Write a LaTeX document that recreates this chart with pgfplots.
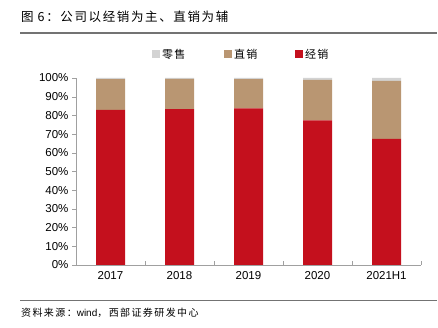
\documentclass[border=0pt]{standalone}
\usepackage{pgfplots}
\pgfplotsset{compat=1.18}
\usepackage{fontspec}
\setmainfont{Liberation Sans}
\newfontfamily\cjk{Noto Sans CJK SC}
\newfontfamily\cjkT[LetterSpace=13]{Noto Sans CJK SC}
\newfontfamily\cjkS[LetterSpace=14]{Noto Sans CJK SC}
\newfontfamily\cjkL[LetterSpace=10]{Noto Sans CJK SC}
\definecolor{cRed}{HTML}{C4101D}
\definecolor{cTan}{HTML}{B99672}
\definecolor{cGray}{HTML}{D3D3D3}
\definecolor{cAxis}{HTML}{A0A0A0}
\begin{document}
\begin{tikzpicture}[x=1pt,y=1pt]
\path[use as bounding box] (0,0) rectangle (438,328);
% title
\node[anchor=west,inner sep=0pt] at (21,311) {\fontsize{12.5}{14}\selectfont\cjkT 图\hspace{4pt}6：公司以经销为主、直销为辅};
\draw[gray!90!black,line width=1.2pt] (20,295) -- (437,295);
% source
\draw[gray!90!black,line width=1.0pt] (20,27) -- (437,27);
\node[anchor=west,inner sep=0pt] at (21,15) {\fontsize{10}{11}\selectfont\cjkS 资料来源：\fontspec{Liberation Sans}wind\cjkS，西部证券研发中心};
% legend
\fill[cGray] (152,270) rectangle (160,278);
\node[anchor=west,inner sep=0pt] at (162,274) {\fontsize{11}{13}\selectfont\cjkL 零售};
\fill[cTan] (224,270) rectangle (232,278);
\node[anchor=west,inner sep=0pt] at (234,274) {\fontsize{11}{13}\selectfont\cjkL 直销};
\fill[cRed] (295,270) rectangle (303,278);
\node[anchor=west,inner sep=0pt] at (305,274) {\fontsize{11}{13}\selectfont\cjkL 经销};
\begin{axis}[
  at={(76pt,63pt)}, anchor=south west,
  scale only axis, width=345pt, height=187pt,
  ybar stacked, bar width=29pt,
  xmin=-0.5, xmax=4.5, ymin=0, ymax=100,
  xtick={-0.5,0.5,1.5,2.5,3.5,4.5},
  xticklabels={},
  extra x ticks={0,1,2,3,4},
  extra x tick labels={2017,2018,2019,2020,2021H1},
  extra x tick style={major tick length=0pt},
  ytick={0,10,...,100},
  yticklabel={\pgfmathprintnumber{\tick}\%},
  /pgf/number format/assume math mode=true,
  tick label style={font=\fontsize{11.5}{13}\selectfont},
  axis x line*=bottom, axis y line*=left,
  x axis line style={cAxis,-},
  y axis line style={cAxis,-},
  tick style={cAxis},
  xtick align=inside, ytick align=outside,
  major tick length=4pt,
  tick pos=left,
  xticklabel style={yshift=-3pt},
  ]
\addplot[fill=cRed,draw=none] coordinates {(0,82.9) (1,83.4) (2,83.7) (3,77.4) (4,67.4)};
\addplot[fill=cTan,draw=none] coordinates {(0,16.5) (1,16.1) (2,15.7) (3,21.6) (4,31.0)};
\addplot[fill=cGray,draw=none] coordinates {(0,0.6) (1,0.5) (2,0.6) (3,1.0) (4,1.6)};
\end{axis}
\end{tikzpicture}
\end{document}
